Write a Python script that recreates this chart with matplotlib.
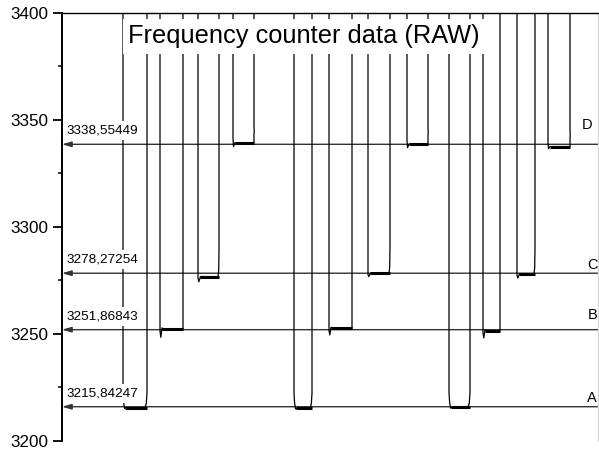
import numpy as np
import matplotlib.pyplot as plt
from matplotlib.ticker import MultipleLocator

plt.rcParams['font.family'] = ['Liberation Sans', 'DejaVu Sans']

# reference frequencies of the four channels
ref_names = ['A', 'B', 'C', 'D']
ref_values = [3215.84247, 3251.86843, 3278.27254, 3338.55449]
ref_labels = ['3215,84247', '3251,86843', '3278,27254', '3338,55449']

# each dip of the counter reading: channel, start, end, plateau and lowest point
dip_channel = ['A', 'B', 'C', 'D', 'A', 'B', 'C', 'D', 'A', 'B', 'C', 'D']
dip_start = [61, 98, 136, 171, 232, 267, 306, 345, 387, 421, 455, 486]
dip_end = [85, 121, 157, 192, 250, 290, 328, 366, 408, 438, 473, 508]
dip_level = [3215.4, 3252.2, 3276.7, 3339.3, 3215.1, 3252.5, 3278.2, 3338.6,
             3215.6, 3251.3, 3277.9, 3337.5]
dip_low = [3215.0, 3248.3, 3274.3, 3337.5, 3214.8, 3249.4, 3276.7, 3337.0,
           3215.2, 3248.0, 3276.0, 3336.5]

off_scale = 3500  # counter reads above the plotted range between dips


def dip_points(ch, s, e, lvl, low):
    if ch == 'A':
        pts = [(s, off_scale), (s, lvl + 7), (s + 0.6, lvl + 2.5), (s + 1.5, low),
               (s + 3, lvl), (e - 2, lvl), (e - 0.7, lvl + 2), (e, lvl + 7),
               (e, lvl + 13), (e, off_scale)]
    elif ch == 'B':
        pts = [(s, off_scale), (s, lvl - 1), (s + 0.8, low), (s + 2, lvl + 0.5),
               (s + 3.5, lvl), (e, lvl), (e, lvl + 6), (e, off_scale)]
    elif ch == 'C':
        pts = [(s, off_scale), (s, lvl - 0.5), (s + 0.8, low), (s + 2.5, lvl),
               (e - 1, lvl), (e - 0.3, lvl + 3), (e, lvl + 12), (e, off_scale)]
    else:
        pts = [(s, off_scale), (s, lvl + 2), (s + 0.5, low), (s + 2, lvl),
               (e, lvl), (e, lvl + 4), (e + 0.2, lvl + 5), (e, lvl + 8), (e, off_scale)]
    return pts


tx, ty = [0], [off_scale]
for ch, s, e, lvl, low in zip(dip_channel, dip_start, dip_end, dip_level, dip_low):
    for x, y in dip_points(ch, s, e, lvl, low):
        tx.append(x)
        ty.append(y)
tx.append(536)
ty.append(off_scale)

fig = plt.figure(figsize=(5.99, 4.5), dpi=100)
ax = fig.add_axes([62 / 599, 9.4 / 450, 536 / 599, 427.7 / 450])

# reference lines with arrow heads on the axis
for val, lab in zip(ref_values, ref_labels):
    ax.annotate('', xy=(0, val), xytext=(536, val),
                arrowprops=dict(arrowstyle='-|>,head_length=0.55,head_width=0.16',
                                color='#333333', lw=1, shrinkA=0, shrinkB=0),
                zorder=2)
    ax.text(5, val + 6.3, lab, fontsize=9.7, ha='left', va='center', zorder=4,
            bbox=dict(boxstyle='square,pad=0.25', fc='white', ec='none'))

letter_pos = {'A': (535, 3219.9, 'right'), 'B': (530.5, 3258.7, 'center'),
              'C': (530, 3282.1, 'center'), 'D': (524.7, 3347.6, 'center')}
for name in ref_names:
    x, y, ha = letter_pos[name]
    ax.text(x, y, name, fontsize=10.5, ha=ha, va='center', clip_on=False)

ax.plot(tx, ty, color='black', lw=0.9, zorder=3)
# the noisy plateaus show up as a thicker trace
for s, e, lvl in zip(dip_start, dip_end, dip_level):
    ax.plot([s + 2, e - 0.5], [lvl, lvl], color='black', lw=2.2,
            solid_capstyle='butt', zorder=3)

ax.text(242 / 536, 0.945, 'Frequency counter data (RAW)', transform=ax.transAxes,
        fontsize=18.3, ha='center', va='center', zorder=5,
        bbox=dict(boxstyle='square,pad=0.2', fc='white', ec='none'))

ax.set_xlim(0, 536)
ax.set_ylim(3200, 3400)
ax.yaxis.set_major_locator(MultipleLocator(50))
ax.yaxis.set_minor_locator(MultipleLocator(25))
ax.set_xticks([])
ax.tick_params(axis='y', which='major', length=6.3, width=1.3, labelsize=12.3, pad=3.3)
ax.tick_params(axis='y', which='minor', length=2.9, width=1.1)
ax.spines['bottom'].set_visible(False)
ax.spines['left'].set_linewidth(1.4)
ax.spines['top'].set_linewidth(1.0)
ax.spines['right'].set_color('#d8d8d8')
ax.spines['right'].set_linewidth(1.0)

fig.savefig('out.png', dpi=100)
